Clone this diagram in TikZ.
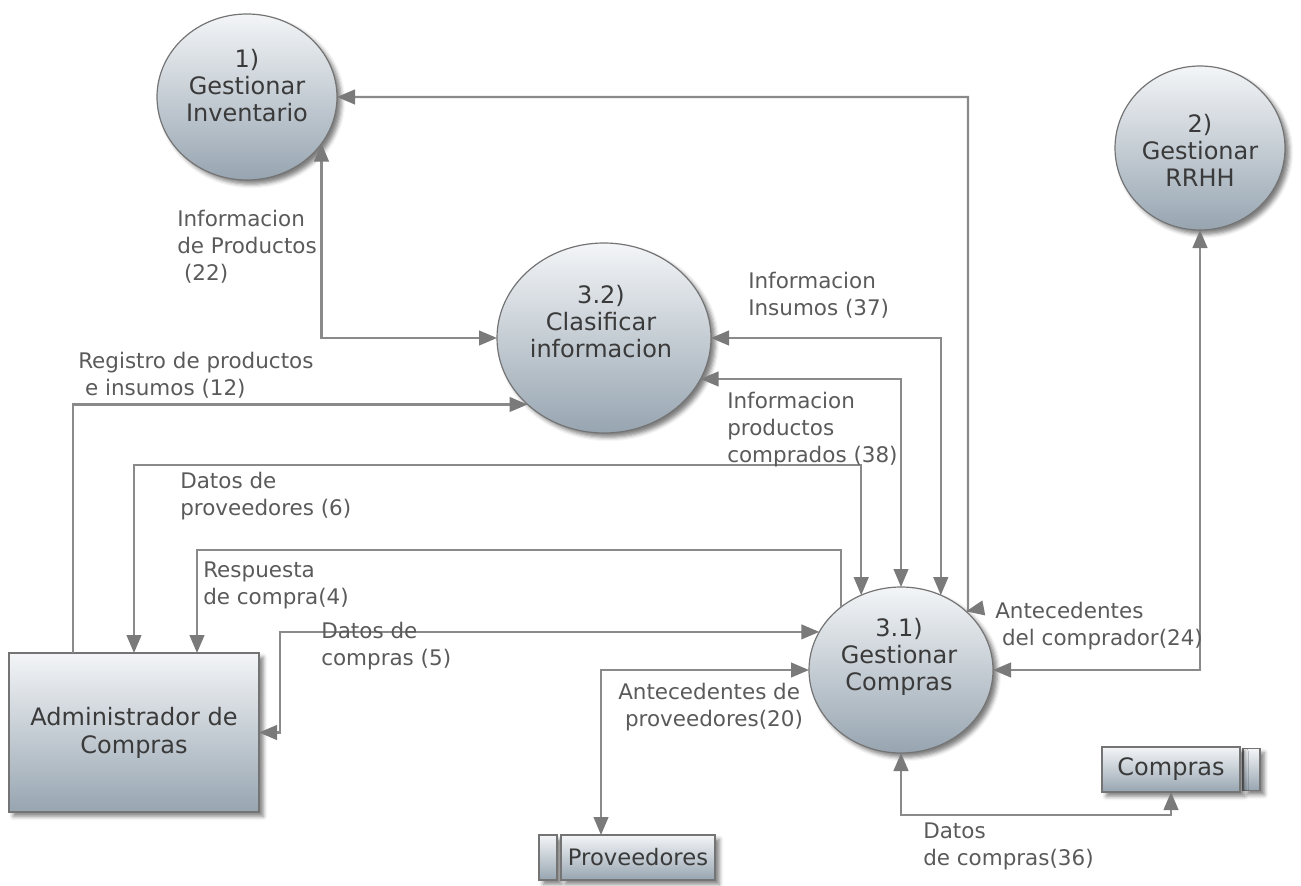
\documentclass[tikz,border=0pt]{standalone}
\usepackage{fontspec}
\setmainfont{DejaVu Sans}
\usetikzlibrary{arrows.meta,shapes.geometric,shadows.blur,calc}
\definecolor{linec}{HTML}{8A8A8A}
\definecolor{headc}{HTML}{7A7A7A}
\definecolor{bordc}{HTML}{747474}
\definecolor{topc}{HTML}{F3F5F7}
\definecolor{botc}{HTML}{97A5B1}
\definecolor{labc}{HTML}{5A5A5A}
\definecolor{txtc}{HTML}{3A3A3A}
\tikzset{
  shade/.style={draw=bordc, line width=0.9pt, top color=topc, bottom color=botc,
    blur shadow={shadow xshift=3.2pt, shadow yshift=-3.2pt, shadow blur radius=3pt, shadow opacity=50}},
  proc/.style={ellipse, shade, inner sep=0pt, outer sep=0pt},
  ent/.style={rectangle, shade, inner sep=0pt, outer sep=0pt, text=txtc},
  ptext/.style={align=center, font=\fontsize{18}{20.25}\selectfont, text=txtc, inner sep=0pt},
  lab/.style={align=left, font=\fontsize{16.1}{20.25}\selectfont, text=labc, inner sep=0pt, anchor=north west},
  flow/.style={draw=linec, line width=1.6pt, >={Triangle[length=13.5pt,width=11pt,color=headc]}},
}
\begin{document}
\begin{tikzpicture}[x=0.75pt, y=-0.75pt]
\useasboundingbox (0,0) rectangle (1301,885);

% processes
\node[proc, minimum width=135pt, minimum height=124.5pt] (C1) at (247,97) {};
\node[ptext] (t1) at (247,86) {1)\\Gestionar\\Inventario};
\node[proc, minimum width=127.5pt, minimum height=123pt] (C2) at (1200,148) {};
\node[ptext] (t2) at (1200,150) {2)\\Gestionar\\RRHH};
\node[proc, minimum width=160.5pt, minimum height=142.5pt] (C32) at (604,338) {};
\node[ptext] (t32) at (601,322) {3.2)\\Clasificar\\informacion};
\node[proc, minimum width=138pt, minimum height=124.5pt] (C31) at (901,670) {};
\node[ptext] (t31) at (899,657) {3.1)\\Gestionar\\Compras};

% external entity
\node[ent, minimum width=187.5pt, minimum height=119.25pt, align=center,
      font=\fontsize{18}{21}\selectfont] (Admin) at (134,732.5) {Administrador de\\Compras};

% stores
\node[ent, minimum width=13.5pt, minimum height=33.75pt] (ProvS) at (548,857.5) {};
\node[ent, minimum width=115.5pt, minimum height=33.75pt, font=\fontsize{17}{20}\selectfont] (Prov) at (638,857.5) {Proveedores};
\node[ent, minimum width=12.75pt, minimum height=31.5pt] (CompS) at (1251.5,769.5) {};
\node[ent, minimum width=103.5pt, minimum height=33.75pt, font=\fontsize{18}{20}\selectfont] (Comp) at (1171,769.5) {Compras};

\coordinate (regout) at ($(Admin.north west)+(64,0)$);
\coordinate (respin) at ($(Admin.north west)+(188,0)$);
\coordinate (provin) at ($(Prov.north west)+(40,0)$);

% connectors
\draw[flow,<->] (C1.east) -- (968,97) -- (968,611) -- (C31.42.2);
\draw[flow,<->] (C1.-32.4) |- (C32.west);
\draw[flow,->] (regout) |- (C32.221.4);
\draw[flow,<->] (Admin.north) -- ++(0,-188) -| (C31.118.9);
\draw[flow,->] (C31.134.5) -- ++(0,-57) -| (respin);
\draw[flow,<->] (Admin.east) -- ++(21,0) |- (C31.155.1);
\draw[flow,<->] (C31.west) -| (provin);
\draw[flow,<->] (C32.east) -| (C31.62.6);
\draw[flow,<->] (C32.-23.6) -| (C31.north);
\draw[flow,<->] (C2.south) |- (C31.east);
\draw[flow,<->] (C31.south) -- ++(0,62) -| (Comp.south);

% labels
\node[lab] (l22) at (177,210) {Informacion\\de Productos\\~(22)};
\node[lab] (l37) at (748,272) {Informacion\\Insumos (37)};
\node[lab] (l12) at (78,352) {Registro de productos\\~e insumos (12)};
\node[lab] (l38) at (727,392) {Informacion\\productos\\comprados (38)};
\node[lab] (l6) at (180,472) {Datos de\\proveedores (6)};
\node[lab] (l4) at (203,562) {Respuesta\\de compra(4)};
\node[lab] (l5) at (321,622) {Datos de\\compras (5)};
\node[lab] (l24) at (995,602) {Antecedentes\\~del comprador(24)};
\node[lab] (l20) at (618,683) {Antecedentes de\\~proveedores(20)};
\node[lab] (l36) at (923,823) {Datos\\de compras(36)};
\end{tikzpicture}
\end{document}
